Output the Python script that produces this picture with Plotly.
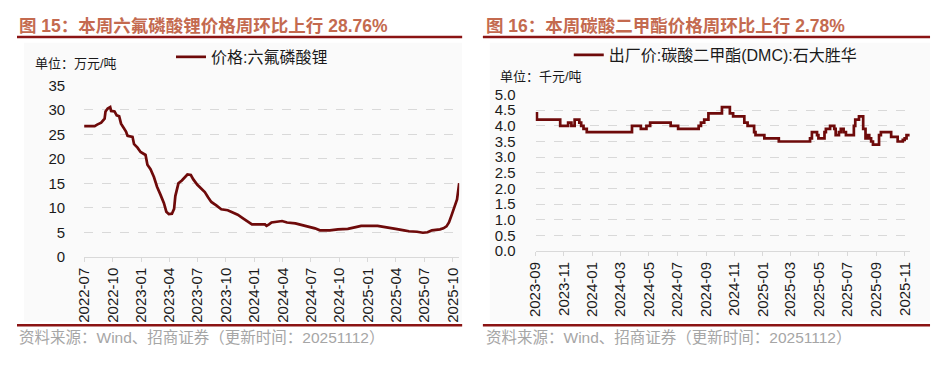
import plotly.graph_objects as go

# page is 943x365; the default html body margin (8px) is taken into account
PAGE_W, PAGE_H = 943, 365
OFF = 8
W, H = PAGE_W - 2 * OFF, PAGE_H - 2 * OFF

# ---------------- data: 六氟磷酸锂 (万元/吨) ----------------
lipf6_dates = [
    "2022-07-01", "2022-08-04", "2022-08-12", "2022-08-25", "2022-09-05", "2022-09-08",
    "2022-09-15", "2022-09-23", "2022-09-26", "2022-10-07", "2022-10-14", "2022-10-22",
    "2022-10-28", "2022-11-05", "2022-11-13", "2022-11-18", "2022-12-04", "2022-12-09",
    "2022-12-20", "2022-12-30", "2023-01-15", "2023-01-21", "2023-01-31", "2023-02-11",
    "2023-02-21", "2023-03-04", "2023-03-15", "2023-03-23", "2023-03-31", "2023-04-10",
    "2023-04-17", "2023-04-21", "2023-05-01", "2023-05-12", "2023-05-22", "2023-05-30",
    "2023-06-10", "2023-06-18", "2023-07-01", "2023-07-15", "2023-07-25", "2023-08-05",
    "2023-08-15", "2023-08-31", "2023-09-16", "2023-10-07", "2023-10-23", "2023-11-08",
    "2023-11-24", "2023-12-10", "2023-12-24", "2024-02-04", "2024-02-09", "2024-02-17",
    "2024-02-25", "2024-03-30", "2024-04-15", "2024-05-12", "2024-06-02", "2024-06-23",
    "2024-07-14", "2024-07-30", "2024-08-31", "2024-09-26", "2024-10-28", "2024-11-19",
    "2024-12-10", "2025-02-01", "2025-02-22", "2025-03-15", "2025-03-31", "2025-04-27",
    "2025-05-13", "2025-06-08", "2025-06-27", "2025-07-12", "2025-07-26", "2025-08-21",
    "2025-09-01", "2025-09-11", "2025-09-19", "2025-09-27", "2025-10-08", "2025-10-15",
    "2025-10-22",
]
lipf6_values = [
    26.7, 26.7, 27.0, 27.4, 28.2, 29.7,
    30.3, 30.6, 29.8, 29.7, 28.9, 28.7,
    27.2, 26.3, 25.6, 24.7, 24.5, 23.0,
    22.3, 21.4, 20.8, 18.8, 17.9, 16.3,
    14.3, 12.7, 11.0, 9.2, 8.7, 8.8,
    9.8, 12.4, 15.0, 15.6, 16.3, 16.8,
    16.7, 15.8, 14.7, 13.7, 13.2, 12.1,
    11.2, 10.5, 9.7, 9.5, 9.1, 8.6,
    7.9, 7.3, 6.6, 6.6, 6.3, 6.6,
    7.0, 7.3, 7.0, 6.8, 6.5, 6.2,
    5.8, 5.4, 5.4, 5.6, 5.7, 6.0,
    6.3, 6.3, 6.1, 6.0, 5.7, 5.4,
    5.2, 5.1, 4.9, 5.0, 5.4, 5.6,
    5.8, 6.2, 7.0, 8.4, 10.3, 11.7,
    15.05,
]
lipf6_ticks = ["2022-07-01", "2022-10-01", "2023-01-01", "2023-04-01", "2023-07-01",
               "2023-10-01", "2024-01-01", "2024-04-01", "2024-07-01", "2024-10-01",
               "2025-01-01", "2025-04-01", "2025-07-01", "2025-10-01"]
lipf6_y_ticks = [0, 5, 10, 15, 20, 25, 30, 35]

# ---------------- data: 碳酸二甲酯 DMC 石大胜华 (千元/吨) ----------------
dmc_dates = [
    "2023-09-01", "2023-09-04", "2023-10-24", "2023-11-10", "2023-11-17", "2023-11-24",
    "2023-12-04", "2023-12-08", "2023-12-13", "2023-12-20", "2024-03-26", "2024-04-14",
    "2024-04-26", "2024-05-04", "2024-06-17", "2024-07-03", "2024-08-16", "2024-08-21",
    "2024-08-28", "2024-09-06", "2024-10-05", "2024-10-22", "2024-10-29", "2024-11-22",
    "2024-11-29", "2024-12-13", "2024-12-16", "2025-01-04", "2025-02-04", "2025-04-12",
    "2025-04-16", "2025-04-27", "2025-04-30", "2025-05-13", "2025-05-16", "2025-05-25",
    "2025-06-03", "2025-06-06", "2025-06-13", "2025-06-17", "2025-06-23", "2025-06-28",
    "2025-07-15", "2025-07-18", "2025-07-26", "2025-08-04", "2025-08-09", "2025-08-12",
    "2025-08-17", "2025-08-21", "2025-08-25", "2025-09-07", "2025-09-11", "2025-10-03",
    "2025-10-17", "2025-10-28", "2025-11-01", "2025-11-05", "2025-11-12",
]
dmc_values = [
    4.4, 4.2, 4.0, 4.1, 4.0, 4.2,
    4.1, 4.0, 3.9, 3.8, 4.0, 3.9,
    4.0, 4.1, 4.0, 3.9, 4.0, 4.1,
    4.2, 4.4, 4.6, 4.4, 4.3, 4.1,
    4.0, 3.8, 3.7, 3.6, 3.5, 3.6,
    3.8, 3.7, 3.6, 3.8, 3.9, 4.0,
    3.9, 3.7, 3.8, 3.9, 3.8, 3.7,
    4.0, 4.2, 4.3, 3.9, 3.6, 3.7,
    3.6, 3.5, 3.4, 3.7, 3.8, 3.65,
    3.5, 3.55, 3.6, 3.7, 3.7,
]
dmc_ticks = ["2023-09-01", "2023-11-01", "2024-01-01", "2024-03-01", "2024-05-01",
             "2024-07-01", "2024-09-01", "2024-11-01", "2025-01-01", "2025-03-01",
             "2025-05-01", "2025-07-01", "2025-09-01", "2025-11-01"]
dmc_y_ticks = [0.0, 0.5, 1.0, 1.5, 2.0, 2.5, 3.0, 3.5, 4.0, 4.5, 5.0]

# ---------------- styling ----------------
LINE = "#6E0A0A"
TITLE_C = "#C46A4F"
RULE_C = "#8B1414"
GRID_C = "#D9D9D9"
TXT = "#1A1A1A"
FOOT_C = "#A6A6A6"
MIX = "Liberation Sans, Arial, Noto Sans CJK SC"
LAT = "Liberation Sans, Arial"


def px(x):
    return (x - OFF) / W


def py(y):
    return 1 - (y - OFF) / H


fig = go.Figure()
fig.add_trace(go.Scatter(
    x=lipf6_dates, y=lipf6_values, mode="lines", name="价格:六氟磷酸锂",
    line=dict(color=LINE, width=2.7), xaxis="x", yaxis="y", legend="legend",
))
fig.add_trace(go.Scatter(
    x=dmc_dates, y=dmc_values, mode="lines", name="出厂价:碳酸二甲酯(DMC):石大胜华",
    line=dict(color=LINE, width=2.7, shape="hv"), xaxis="x2", yaxis="y2", legend="legend2",
))

xcommon = dict(
    type="date", tickformat="%Y-%m", tickangle=-90, showgrid=False,
    showline=True, linecolor=GRID_C, linewidth=1, ticks="outside", ticklen=4,
    tickcolor=GRID_C, tickfont=dict(family=LAT, size=15, color=TXT), zeroline=False,
)
ycommon = dict(
    showgrid=True, gridcolor=GRID_C, griddash="dash", gridwidth=1, zeroline=False,
    showline=False, ticks="", tickfont=dict(family=LAT, size=15, color=TXT),
    ticklabelstandoff=18,
)

fig.update_layout(
    width=W, height=H, margin=dict(l=0, r=0, t=0, b=0),
    paper_bgcolor="white", plot_bgcolor="rgba(0,0,0,0)",
    xaxis=dict(xcommon, domain=[px(76), px(456)], range=["2022-07-01", "2025-10-22"],
               tickvals=lipf6_ticks, anchor="y"),
    yaxis=dict(ycommon, domain=[py(260), py(80)], range=[0, 35], tickvals=lipf6_y_ticks,
               anchor="x"),
    xaxis2=dict(xcommon, domain=[px(533.3), px(912.5)], range=["2023-09-01", "2025-11-12"],
                tickvals=dmc_ticks, anchor="y2"),
    yaxis2=dict(ycommon, domain=[py(254), py(89.5)], range=[0, 5.0], tickvals=dmc_y_ticks,
                tickformat=".1f", anchor="x2", ticklabelstandoff=19),
    showlegend=True,
    legend=dict(x=px(164), y=py(50), xanchor="left", yanchor="middle",
                bgcolor="rgba(0,0,0,0)", itemwidth=30,
                font=dict(family=MIX, size=16, color=TXT)),
    legend2=dict(x=px(567), y=py(48), xanchor="left", yanchor="middle",
                 bgcolor="rgba(0,0,0,0)", itemwidth=30,
                 font=dict(family=MIX, size=16, color=TXT)),
)

shapes = []
# light chart backgrounds
for x0, x1 in [(15, 459), (487, 933)]:
    shapes.append(dict(type="rect", xref="paper", yref="paper", x0=px(x0), x1=px(x1),
                       y0=py(328), y1=py(35), fillcolor="#FAFAFA", line=dict(width=0),
                       layer="below"))
# rules
for x0, x1 in [(OFF, 459), (480, 933)]:
    for yy in (29, 332):
        shapes.append(dict(type="line", xref="paper", yref="paper", x0=px(x0), x1=px(x1),
                           y0=py(yy), y1=py(yy), line=dict(color=RULE_C, width=2.5)))
fig.update_layout(shapes=shapes)

ann = []
ann.append(dict(text="<b>图 15：本周六氟磷酸锂价格周环比上行 28.76%</b>", x=px(OFF), y=py(17),
                xref="paper", yref="paper", xanchor="left", yanchor="middle", showarrow=False,
                font=dict(family=MIX, size=17.5, color=TITLE_C)))
ann.append(dict(text="<b>图 16：本周碳酸二甲酯价格周环比上行 2.78%</b>", x=px(481), y=py(17),
                xref="paper", yref="paper", xanchor="left", yanchor="middle", showarrow=False,
                font=dict(family=MIX, size=17.5, color=TITLE_C)))
ann.append(dict(text="单位：万元/吨", x=px(24), y=py(57), xref="paper", yref="paper",
                xanchor="left", yanchor="middle", showarrow=False,
                font=dict(family=MIX, size=13, color=TXT)))
ann.append(dict(text="单位：千元/吨", x=px(495), y=py(71), xref="paper", yref="paper",
                xanchor="left", yanchor="middle", showarrow=False,
                font=dict(family=MIX, size=13, color=TXT)))
for x0 in (OFF, 481):
    ann.append(dict(text="资料来源：Wind、招商证券（更新时间：20251112）", x=px(x0), y=py(345),
                    xref="paper", yref="paper", xanchor="left", yanchor="middle",
                    showarrow=False, font=dict(family=MIX, size=15.5, color=FOOT_C)))
fig.update_layout(annotations=ann)

fig.write_html("out.html", config={"displayModeBar": False})
